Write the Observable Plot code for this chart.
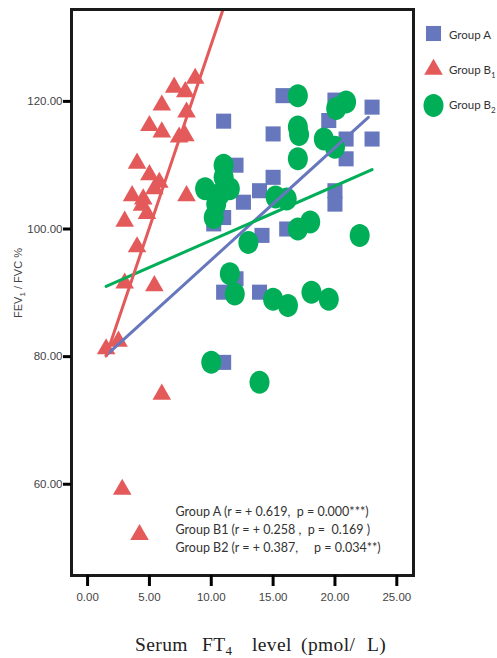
<!DOCTYPE html>
<html><head><meta charset="utf-8">
<script src="https://cdn.jsdelivr.net/npm/d3@7"></script>
<script src="https://cdn.jsdelivr.net/npm/@observablehq/plot@0.6"></script>
<style>
body{margin:0;background:#fff;}
#chart{width:497px;height:658px;}
svg text{white-space:pre;}
g[aria-label$="tick label"]{fill:#444;}
</style></head><body><div id="chart"></div>
<script>
const xTicks = [0, 5, 10, 15, 20, 25];
const yTicks = [60, 80, 100, 120];

const groupAx = [11.0,15.8,15.0,20.0,19.5,23.0,23.0,20.9,20.9,15.0,13.9,20.0,20.0,12.0,12.6,10.2,11.0,16.1,14.1,12.0,11.0,13.9,11.0];
const groupAy = [116.9,120.9,114.9,120.2,117.0,119.1,114.1,114.1,111.0,108.1,106.0,106.0,103.9,110.0,104.2,100.8,101.8,100.0,99.0,92.2,90.1,90.1,79.1];

const groupB1x = [7.0,8.7,7.9,6.0,8.0,5.0,6.0,7.4,7.9,4.0,5.0,5.8,3.6,4.5,5.4,8.0,4.4,4.8,3.0,4.0,3.0,5.4,2.5,1.5,6.0,2.8,4.2];
const groupB1y = [122.2,123.6,121.5,119.4,118.3,116.2,115.2,114.4,114.6,110.3,108.5,107.3,105.2,104.7,106.3,105.2,103.7,102.4,101.2,97.2,91.5,91.1,82.4,81.2,74.1,59.2,52.1];

const groupB2x = [17.0,20.9,20.1,17.0,17.1,19.1,20.0,17.0,11.0,11.0,9.5,11.5,10.7,10.4,10.2,15.2,16.1,13.0,17.0,18.0,22.0,11.5,11.9,15.0,16.2,18.1,19.5,10.0,13.9];
const groupB2y = [120.9,119.9,118.9,116.0,114.8,114.1,112.8,111.0,110.0,108.1,106.3,106.3,105.5,103.9,101.8,105.0,104.7,97.9,100.0,101.1,99.0,93.0,89.8,89.0,88.0,90.1,89.0,79.1,76.0];

// fit lines (end points)
const fitAx = [1.5, 22.7],  fitAy = [80.2, 117.5];
const fitB1x = [1.5, 10.95], fitB1y = [80.1, 134.4];
const fitB2x = [1.5, 23.0], fitB2y = [91.0, 109.3];

const annotLines = [
  "Group A (r = + 0.619,  p = 0.000***)",
  "Group B1 (r = + 0.258 ,  p =  0.169 )",
  "Group B2 (r = + 0.387,     p = 0.034**)"
];
const legendLabels = [["Group A", ""], ["Group B", "1"], ["Group B", "2"]];

const colA = "#6677bd", colB1 = "#e45a5a", colB2 = "#00ae58";

const zip = (xs, ys) => xs.map((x, i) => ({x, y: ys[i]}));
const dataA = zip(groupAx, groupAy), dataB1 = zip(groupB1x, groupB1y), dataB2 = zip(groupB2x, groupB2y);

const ellipse = {draw(ctx, size) {
  const r = Math.sqrt(size / Math.PI), rx = r * 0.87, ry = r, k = 0.5523;
  ctx.moveTo(rx, 0);
  ctx.bezierCurveTo(rx, ry * k, rx * k, ry, 0, ry);
  ctx.bezierCurveTo(-rx * k, ry, -rx, ry * k, -rx, 0);
  ctx.bezierCurveTo(-rx, -ry * k, -rx * k, -ry, 0, -ry);
  ctx.bezierCurveTo(rx * k, -ry, rx, -ry * k, rx, 0);
  ctx.closePath();
}};

const legendSymbols = [["square", 8.5, colA], ["triangle", 6.9, colB1], [ellipse, 11.5, colB2]];
const legendMarks = legendSymbols.map(([s, r, c], i) =>
  Plot.dot([0], {frameAnchor: "top-right", dx: 20, dy: 24 + 36 * i, symbol: s, r, fill: c}));

const f2 = d3.format(".2f");
const plot = Plot.plot({
  width: 497, height: 658,
  marginLeft: 71, marginRight: 84, marginTop: 9, marginBottom: 83,
  x: {domain: [-1.3, 26.35]},
  y: {domain: [45.7, 134.4]},
  style: {fontFamily: "Liberation Sans", fontSize: "11.5px", color: "#000", background: "#fff", overflow: "visible"},
  marks: [
    Plot.dot(dataA, {x: "x", y: "y", symbol: "square", r: 8.5, fill: colA}),
    Plot.dot(dataB1, {x: "x", y: "y", symbol: "triangle", r: 6.9, fill: colB1}),
    Plot.dot(dataB2, {x: "x", y: "y", symbol: ellipse, r: 11.5, fill: colB2}),
    Plot.line(zip(fitAx, fitAy), {x: "x", y: "y", stroke: colA, strokeWidth: 3}),
    Plot.line(zip(fitB2x, fitB2y), {x: "x", y: "y", stroke: colB2, strokeWidth: 3}),
    Plot.line(zip(fitB1x, fitB1y), {x: "x", y: "y", stroke: colB1, strokeWidth: 3}),
    Plot.frame({strokeWidth: 3, stroke: "#1a1a1a"}),
    Plot.axisX({ticks: xTicks, tickFormat: f2, tickSize: 11, tickPadding: 6, strokeWidth: 3, label: null}),
    Plot.axisY({ticks: yTicks, tickFormat: f2, tickSize: 8, tickPadding: 1, strokeWidth: 3, label: null}),
    Plot.text([annotLines.join("\n")], {frameAnchor: "bottom-left", dx: 104, dy: -24, textAnchor: "start", lineAnchor: "bottom", lineHeight: 1.43, fontSize: 12.5, fontFamily: "Lato", fill: "#333"}),
    ...legendMarks
  ]
});
document.getElementById("chart").appendChild(plot);

const svg = d3.select(plot);
// legend labels
legendLabels.forEach(([main, sub], i) => {
  const t = svg.append("text").attr("x", 449).attr("y", 39 + 35 * i).attr("text-anchor", "start")
    .attr("font-family", "Lato").attr("font-size", 11.5).attr("fill", "#333").text(main);
  if (sub) t.append("tspan").attr("font-size", 8).attr("dy", 3.5).text(sub);
});
// y axis title
const yt = svg.append("text").attr("transform", "translate(22,283) rotate(-90)")
  .attr("text-anchor", "middle").attr("font-family", "Liberation Sans").attr("font-size", 11).attr("fill", "#444");
yt.append("tspan").text("FEV");
yt.append("tspan").attr("font-size", 8).attr("dy", 3).text("1");
yt.append("tspan").attr("dy", -3).text(" / FVC %");
// x axis title
const xt = svg.append("text").attr("y", 651).attr("text-anchor", "start")
  .attr("font-family", "Liberation Serif").attr("font-size", 19.5).attr("letter-spacing", 0.4).attr("fill", "#222");
xt.append("tspan").attr("x", 135).text("Serum");
xt.append("tspan").attr("x", 202).text("FT");
xt.append("tspan").attr("font-size", 13).attr("dy", 4).text("4");
xt.append("tspan").attr("x", 252).attr("dy", -4).text("level");
xt.append("tspan").attr("x", 301).text("(pmol/");
xt.append("tspan").attr("x", 367).text("L)");
</script></body></html>
